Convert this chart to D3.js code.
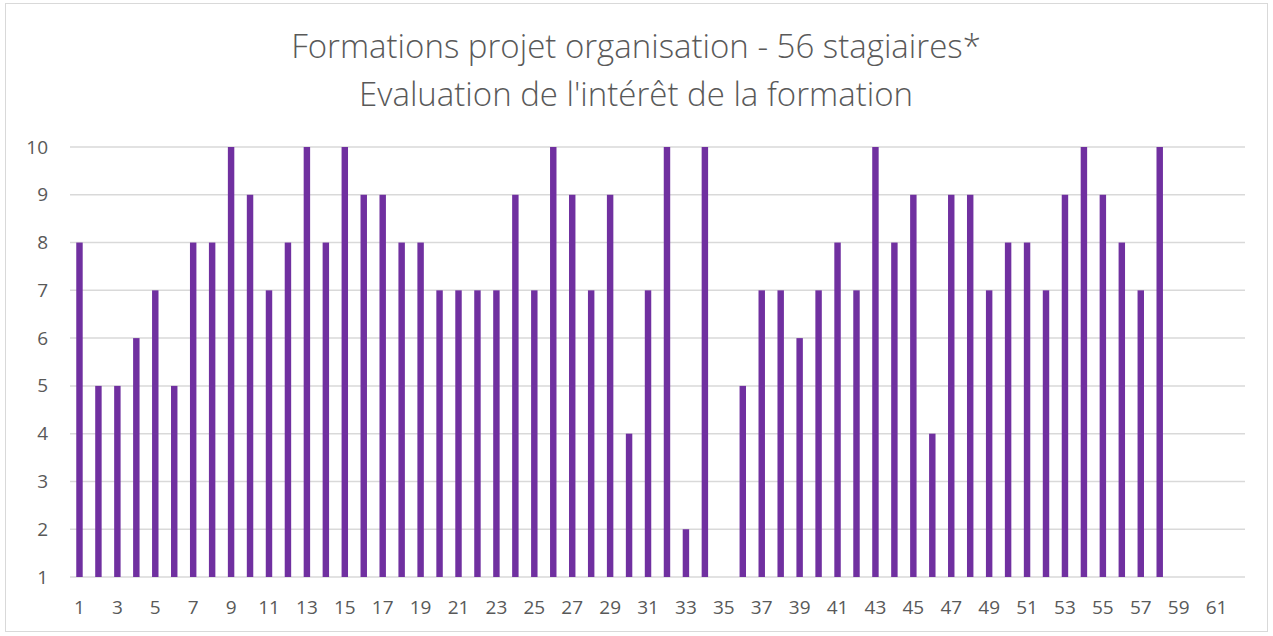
<!DOCTYPE html>
<html>
<head>
<meta charset="utf-8">
<script src="https://d3js.org/d3.v7.min.js"></script>
<style>
  body { margin: 0; background: #fff; }
  text { font-family: "Open Sans", sans-serif; fill: #595959; }
</style>
</head>
<body>
<svg id="chart" width="1273" height="636"></svg>
<script>
// stagiaires 1..62, score (null = pas de réponse)
const categories = d3.range(1, 63).map(String);
const scores = [8, 5, 5, 6, 7, 5, 8, 8, 10, 9, 7, 8, 10, 8, 10, 9, 9, 8, 8, 7,
    7, 7, 7, 9, 7, 10, 9, 7, 9, 4, 7, 10, 2, 10, null, 5, 7, 7, 6, 7,
    8, 7, 10, 8, 9, 4, 9, 9, 7, 8, 8, 7, 9, 10, 9, 8, 7, 10, null, null,
    null, null];
const yTicks = [1, 2, 3, 4, 5, 6, 7, 8, 9, 10];
const titleLines = ["Formations projet organisation - 56 stagiaires*", "Evaluation de l'intérêt de la formation"];

const svg = d3.select("#chart");
const margin = {top: 147, right: 28, bottom: 59, left: 70};
const width = 1273 - margin.left - margin.right;
const height = 636 - margin.top - margin.bottom;

// chart border
svg.append("rect")
    .attr("x", 5.5).attr("y", 3.5)
    .attr("width", 1262).attr("height", 628)
    .attr("fill", "#fff")
    .attr("stroke", "#d9d9d9");

svg.selectAll(".title")
    .data(titleLines)
    .enter().append("text")
    .attr("x", 636)
    .attr("y", (d, i) => 58 + i * 48)
    .attr("text-anchor", "middle")
    .attr("font-size", 33)
    .attr("font-weight", 300)
    .text(d => d);

const g = svg.append("g").attr("transform", `translate(${margin.left},${margin.top})`);

let x = d3.scaleBand().domain(categories).range([0, width]).paddingInner(0.66).paddingOuter(0.33);
let y = d3.scaleLinear().domain([1, 10]).range([height, 0]);

// grid lines
g.selectAll(".grid")
    .data(yTicks)
    .enter().append("line")
    .attr("x1", 0).attr("x2", width)
    .attr("y1", d => y(d)).attr("y2", d => y(d))
    .attr("stroke", "#d9d9d9")
    .attr("stroke-width", 1.5);

// y labels
g.append("g")
    .call(d3.axisLeft(y).tickValues(yTicks).tickSize(0).tickPadding(22))
    .call(a => a.select(".domain").remove())
    .selectAll("text")
    .attr("font-size", 19)
    .attr("font-family", "Open Sans, sans-serif")
    .attr("fill", "#595959");

// x labels, every other category
g.append("g")
    .attr("transform", `translate(0,${height})`)
    .call(d3.axisBottom(x).tickValues(categories.filter((c, i) => i % 2 === 0)).tickSize(0).tickPadding(24))
    .call(a => a.select(".domain").remove())
    .selectAll("text")
    .attr("font-size", 19)
    .attr("font-family", "Open Sans, sans-serif")
    .attr("fill", "#595959");

g.selectAll(".bar")
    .data(categories.map((c, i) => ({c: c, v: scores[i]})).filter(d => d.v !== null))
    .enter().append("rect")
    .attr("x", d => x(d.c))
    .attr("width", x.bandwidth())
    .attr("y", d => y(d.v))
    .attr("height", d => y(1) - y(d.v))
    .attr("fill", "#7030a0");
</script>
</body>
</html>
